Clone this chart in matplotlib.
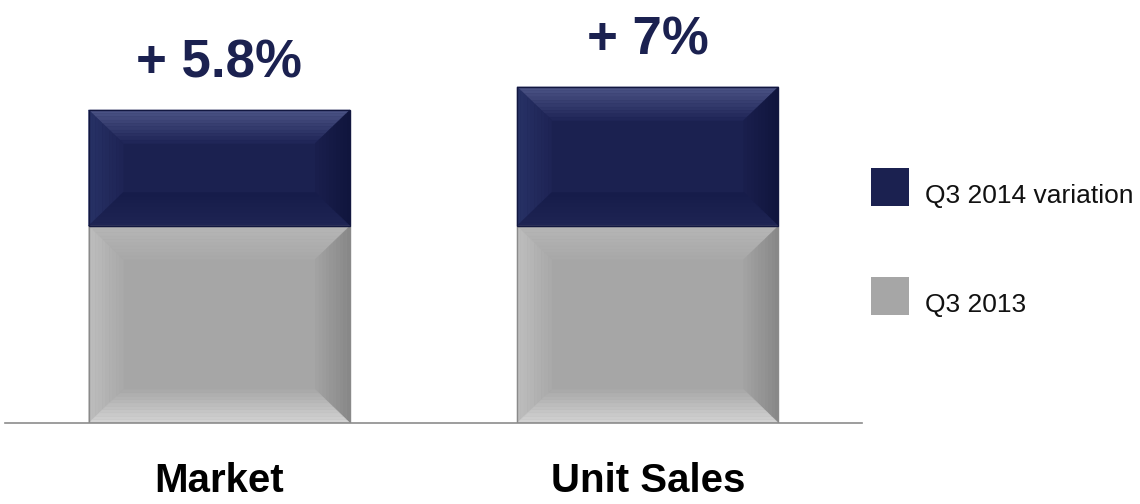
import numpy as np
import matplotlib
matplotlib.use("Agg")
import matplotlib.pyplot as plt
from matplotlib.patches import Polygon, Rectangle
from matplotlib.colors import to_rgb

plt.rcParams['font.family'] = ['Liberation Sans Narrow', 'Liberation Sans', 'DejaVu Sans']

categories = ['Market', 'Unit Sales']
base_2013 = [100, 100]
variation_2014 = [58.9, 70.6]
growth_labels = ['+ 5.8%', '+ 7%']
series_names = ['Q3 2014 variation', 'Q3 2013']

navy = '#1B2150'
grey = '#A6A6A6'

# bevel shades (outer -> inner) for top, left, right, bottom
shades = {
    navy: [('#4C5486', '#1E2456'), ('#283266', '#1D2354'),
           ('#0F143C', '#1A1F4D'), ('#1E2454', '#161C49')],
    grey: [('#B6B6B6', '#A8A8A8'), ('#BEBEBE', '#A9A9A9'),
           ('#878787', '#A3A3A3'), ('#D4D4D4', '#A8A8A8')],
}
edges = {navy: '#12173F', grey: '#8A8A8A'}


def mix(c1, c2, f):
    a = np.array(to_rgb(c1))
    b = np.array(to_rgb(c2))
    return tuple(a + (b - a) * f)


def bevel(ax, patch, color, bw=0.081, bh=17, n=10):
    x0 = patch.get_x()
    x1 = x0 + patch.get_width()
    y0 = patch.get_y()
    y1 = y0 + patch.get_height()
    bh = min(bh, patch.get_height() / 2)
    levels = np.linspace(0, 1, n + 1)
    for k in range(n):
        fa, fb = levels[k], levels[k + 1]
        fm = (fa + fb) / 2
        ax0, ax1, ay0, ay1 = x0 + fa * bw, x1 - fa * bw, y0 + fa * bh, y1 - fa * bh
        bx0, bx1, by0, by1 = x0 + fb * bw, x1 - fb * bw, y0 + fb * bh, y1 - fb * bh
        sides = [
            [[ax0, ay1], [ax1, ay1], [bx1, by1], [bx0, by1]],
            [[ax0, ay0], [bx0, by0], [bx0, by1], [ax0, ay1]],
            [[ax1, ay0], [ax1, ay1], [bx1, by1], [bx1, by0]],
            [[ax0, ay0], [ax1, ay0], [bx1, by0], [bx0, by0]],
        ]
        for pts, (c_out, c_in) in zip(sides, shades[color]):
            c = mix(c_out, c_in, fm)
            ax.add_patch(Polygon(pts, closed=True, facecolor=c, edgecolor=c,
                                 linewidth=0.3, zorder=3))
    ax.add_patch(Rectangle((x0, y0), x1 - x0, y1 - y0, facecolor='none',
                           edgecolor=edges[color], linewidth=1, zorder=4))


fig = plt.figure(figsize=(11.4, 5.04), dpi=100)
ax = fig.add_axes([5 / 1140, 1 - 423 / 504, 857 / 1140, 423 / 504])

x = np.arange(len(categories))
bars_base = ax.bar(x, base_2013, width=0.61, color=grey, zorder=2)
bars_var = ax.bar(x, variation_2014, width=0.61, bottom=base_2013, color=navy, zorder=2)

for p in bars_base:
    bevel(ax, p, grey)
for p in bars_var:
    bevel(ax, p, navy)

for i, p in enumerate(bars_var):
    top = p.get_y() + p.get_height()
    ax.text(p.get_x() + p.get_width() / 2, top + 11, growth_labels[i],
            ha='center', va='bottom', fontsize=38, fontweight='bold', color=navy)

ax.set_xlim(-0.5, 1.5)
ax.set_ylim(0, 423 / 1.97)
for s in ['top', 'right', 'left']:
    ax.spines[s].set_visible(False)
ax.spines['bottom'].set_color('#8C8C8C')
ax.spines['bottom'].set_linewidth(1.2)
ax.spines['bottom'].set_zorder(5)
ax.set_yticks([])
ax.set_xticks(x)
ax.set_xticklabels(categories, fontsize=29, fontweight='bold')
ax.tick_params(axis='x', length=0, pad=28)

# legend drawn as squares + text in figure coords
leg_y = [187, 296]
for name, c, yy in zip(series_names, [navy, grey], leg_y):
    fig.patches.append(Rectangle((871 / 1140, 1 - (yy + 19) / 504), 38 / 1140, 38 / 504,
                                 transform=fig.transFigure, facecolor=c, edgecolor='none'))
    fig.text(925 / 1140, 1 - (yy + 9) / 504, name, fontsize=19, va='center', ha='left',
             color='#111111')

fig.savefig('out.png', dpi=100)
